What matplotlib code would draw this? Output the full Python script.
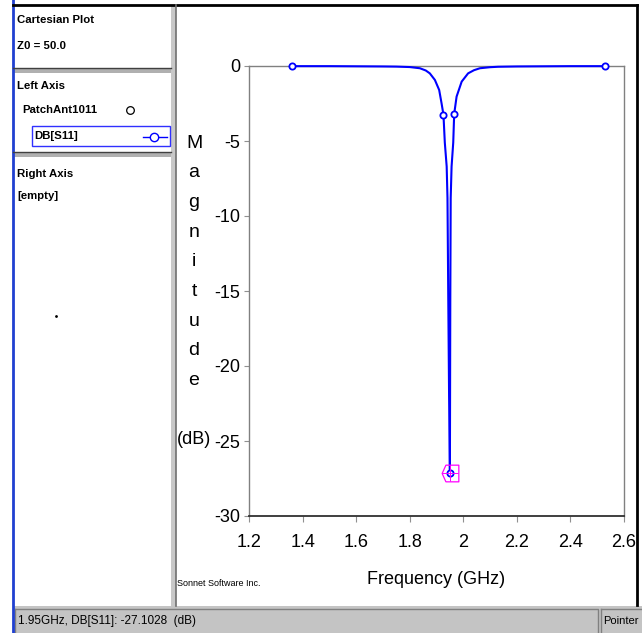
import numpy as np
import matplotlib.pyplot as plt
from matplotlib.path import Path
from matplotlib.patches import Rectangle

plt.rcParams['font.family'] = ['Liberation Sans Narrow', 'Liberation Sans', 'DejaVu Sans']
plt.rcParams['axes.unicode_minus'] = False

# data
freq = [1.36, 1.50, 1.60, 1.70, 1.75, 1.80, 1.838, 1.86, 1.875, 1.894, 1.910, 1.919,
        1.926, 1.931, 1.938, 1.941, 1.944, 1.947, 1.950, 1.9515, 1.953, 1.9563,
        1.9625, 1.966, 1.975, 1.994, 2.018, 2.040, 2.062, 2.10, 2.13, 2.20, 2.30,
        2.40, 2.53]
db_s11 = [-0.01, -0.01, -0.02, -0.03, -0.04, -0.07, -0.15, -0.30, -0.49, -0.93, -1.6, -2.5,
          -3.25, -5.1, -6.7, -8.8, -15.6, -22.0, -27.1028, -15.6, -8.8, -6.7,
          -5.1, -3.2, -2.04, -1.04, -0.49, -0.28, -0.15, -0.08, -0.05, -0.03, -0.02,
          -0.01, -0.01]
marker_freqs = [1.36, 1.926, 1.950, 1.966, 2.53]
cursor_f, cursor_db = 1.95, -27.1028

xticks = [1.2, 1.4, 1.6, 1.8, 2.0, 2.2, 2.4, 2.6]
xticklabels = ['1.2', '1.4', '1.6', '1.8', '2', '2.2', '2.4', '2.6']
yticks = [0, -5, -10, -15, -20, -25, -30]

W, H = 642, 633
fig = plt.figure(figsize=(W / 100, H / 100), dpi=100)
fig.patch.set_facecolor('white')

# background "window" drawn in pixel coords
bg = fig.add_axes([0, 0, 1, 1], zorder=0)
bg.set_xlim(0, W)
bg.set_ylim(H, 0)
bg.axis('off')

# status bar
bg.add_patch(Rectangle((13, 606), W - 13, H - 606, fc='#c4c4c4', ec='none'))
bg.plot([15, 598, 598], [609, 609, 633], color='#808080', lw=1)
bg.plot([15, 15], [609, 633], color='#808080', lw=1)
bg.plot([601, 642], [609, 609], color='#808080', lw=1)
bg.plot([601, 601], [609, 633], color='#808080', lw=1)
bg.text(18, 621, '1.95GHz, DB[S11]: -27.1028  (dB)', fontsize=8.5, va='center', ha='left')
bg.text(603, 621, 'Pointer', fontsize=8, va='center', ha='left')

# window borders
bg.plot([12.5, 12.5], [0, H], color='#2040d0', lw=2)
bg.plot([13, 637], [5, 5], color='black', lw=2)
bg.plot([637, 637], [5, 605], color='black', lw=2)

# left panel separators
bg.add_patch(Rectangle((171, 5), 5, 601, fc='#c8c8c8', ec='none'))
bg.plot([176, 176], [5, 606], color='#707070', lw=1.2)
for y0 in (68, 152):
    bg.add_patch(Rectangle((13, y0), 158, 5, fc='#b0b0b0', ec='none'))
    bg.plot([13, 171], [y0, y0], color='#404040', lw=1)

# left panel texts
panel_font = dict(fontsize=8.2, fontweight='bold', va='center', ha='left')
bg.text(17, 20, 'Cartesian Plot', **panel_font)
bg.text(17, 46, 'Z0 = 50.0', **panel_font)
bg.text(17, 86, 'Left Axis', **panel_font)
bg.text(22, 110, 'PatchAnt1011', **panel_font)
bg.plot([130], [110], marker='o', ms=5.5, mfc='white', mec='black', mew=0.9)
bg.add_patch(Rectangle((32, 126), 138, 20, fc='none', ec='#3030ff', lw=1))
bg.text(34, 136, 'DB[S11]', **panel_font)
bg.plot([143, 167], [137, 137], color='#0000ff', lw=1)
bg.plot([154], [137], marker='o', ms=6, mfc='white', mec='#0000ff', mew=1)
bg.text(17, 174, 'Right Axis', **panel_font)
bg.text(17, 196, '[empty]', **panel_font)
bg.plot([56], [316], marker='.', ms=2, color='black')

bg.text(177, 584, 'Sonnet Software Inc.', fontsize=6.5, va='center', ha='left')
bg.text(436, 580, 'Frequency (GHz)', fontsize=13, va='center', ha='center')
for i, ch in enumerate('Magnitude'):
    bg.text(194, 143 + 29.7 * i, ch, fontsize=14, va='center', ha='center')
bg.text(194, 440, '(dB)', fontsize=13, va='center', ha='center')

# main plot
ax = fig.add_axes([249 / W, 1 - 516 / H, 375 / W, 450 / H], zorder=1)
ax.set_facecolor('none')
ax.set_xlim(1.2, 2.6)
ax.set_ylim(-30, 0)
ax.set_xticks(xticks)
ax.set_xticklabels(xticklabels)
ax.set_yticks(yticks)
ax.set_yticklabels([str(v) for v in yticks])
for side in ('left', 'top', 'right'):
    ax.spines[side].set_color('#808080')
    ax.spines[side].set_linewidth(1)
ax.spines['bottom'].set_color('#303030')
ax.spines['bottom'].set_linewidth(1.3)
ax.tick_params(axis='both', direction='out', color='#909090', width=0.8, labelsize=13)
ax.tick_params(axis='y', length=3.5, pad=3)
ax.tick_params(axis='x', length=4, pad=9)

mk_idx = [freq.index(f) for f in marker_freqs]
ax.plot(freq, db_s11, color='#0000ff', lw=1.5, marker='o', markevery=mk_idx,
        ms=4.5, mfc='white', mec='#0000ff', mew=1.3, clip_on=False, zorder=3)

# cursor marker at the minimum
cursor = Path([(-1, 0), (-0.55, 1), (1, 1), (1, -1), (-0.55, -1), (-1, 0)],
              [Path.MOVETO] + [Path.LINETO] * 4 + [Path.CLOSEPOLY])
ax.plot([cursor_f], [cursor_db], marker=cursor, ms=12, mfc='none', mec='#ff00ff',
        mew=0.9, zorder=4)
ax.plot([cursor_f], [cursor_db], marker='+', ms=12, mec='#ff00ff', mew=0.7, zorder=4)

fig.savefig('out.png', dpi=100)
